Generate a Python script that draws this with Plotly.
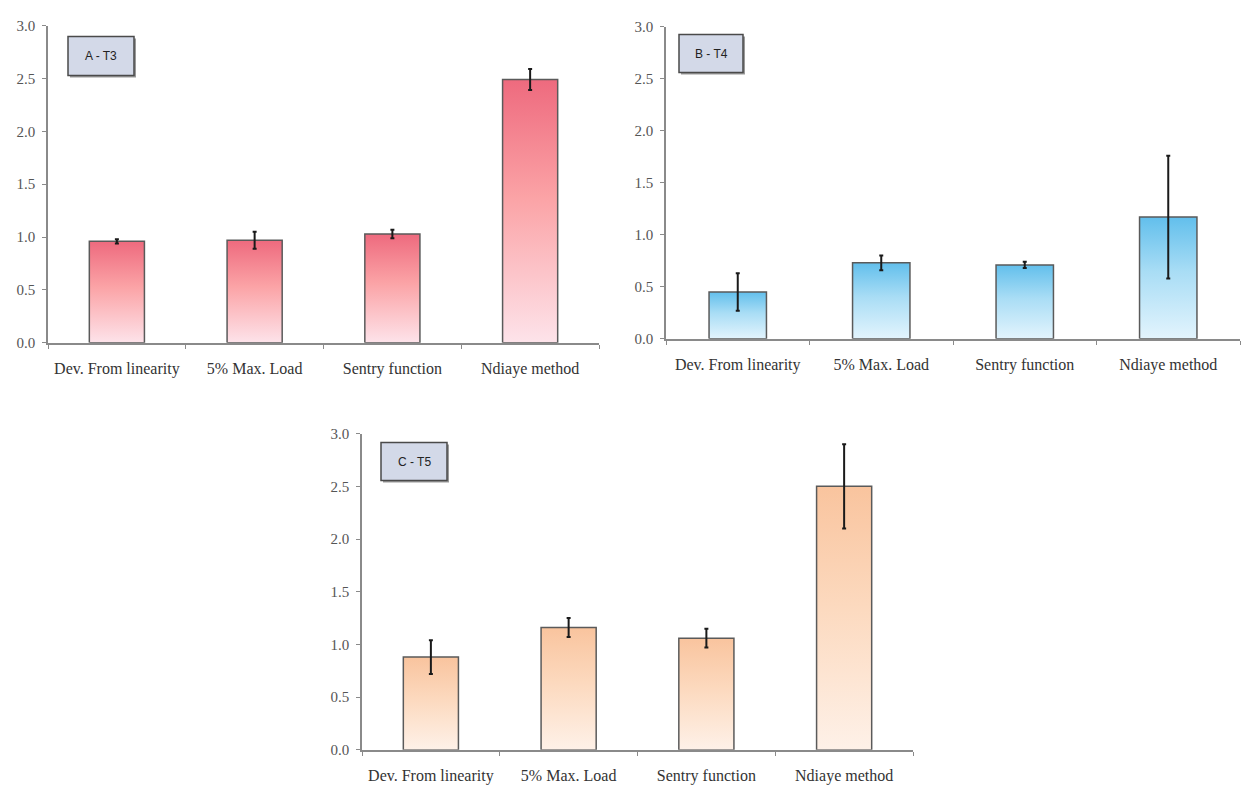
import plotly.graph_objects as go

categories = ["Dev. From linearity", "5% Max. Load", "Sentry function", "Ndiaye method"]
panel_labels = ["A - T3", "B - T4", "C - T5"]

t3_values = [0.96, 0.97, 1.03, 2.49]
t3_errors = [0.02, 0.08, 0.04, 0.10]
t4_values = [0.45, 0.73, 0.71, 1.17]
t4_errors = [0.18, 0.07, 0.03, 0.59]
t5_values = [0.88, 1.16, 1.06, 2.50]
t5_errors = [0.16, 0.09, 0.09, 0.40]
y_ticks = [0.0, 0.5, 1.0, 1.5, 2.0, 2.5, 3.0]

W, H = 1249, 788
# observed render offset correction (target px -> spec px)
def px_x(x):
    return (x - 6) / W
def px_y(y):
    return 1 - (y - 14.4) / 0.982 / H

panels = [
    dict(values=t3_values, errors=t3_errors, top="#EE6A7E", mid="#FBA3A6", bottom="#FDE3EA",
         xdom=[px_x(46), px_x(597)], ydom=[px_y(342), px_y(24)], label=panel_labels[0]),
    dict(values=t4_values, errors=t4_errors, top="#62BFEC", mid="#A9DDF5", bottom="#E3F4FD",
         xdom=[px_x(664), px_x(1238)], ydom=[px_y(338), px_y(25)], label=panel_labels[1]),
    dict(values=t5_values, errors=t5_errors, top="#F9C49E", mid="#FCD9BE", bottom="#FEF1E8",
         xdom=[px_x(360), px_x(911)], ydom=[px_y(750), px_y(433)], label=panel_labels[2]),
]

BAR_W = 0.4
fig = go.Figure()
layout_axes = {}
annotations = []
shapes = []

for p_i, p in enumerate(panels):
    n = p_i + 1
    xa = "x" if n == 1 else f"x{n}"
    ya = "y" if n == 1 else f"y{n}"
    xs = list(range(len(categories)))
    # gradient-filled bars with outline
    for i, v in enumerate(p["values"]):
        x0, x1 = i - BAR_W / 2, i + BAR_W / 2
        fig.add_trace(go.Scatter(
            x=[x0, x1, x1, x0, x0], y=[0, 0, v, v, 0],
            mode="lines", fill="toself",
            line=dict(color="#5a5a5a", width=1.5),
            fillgradient=dict(type="vertical",
                              colorscale=[[0, p["bottom"]], [0.55, p["mid"]], [1, p["top"]]]),
            hoverinfo="skip", showlegend=False, xaxis=xa, yaxis=ya))
    # error bars on top
    fig.add_trace(go.Scatter(
        x=xs, y=p["values"], mode="markers",
        marker=dict(size=1, color="rgba(0,0,0,0)"),
        error_y=dict(type="data", array=p["errors"], visible=True,
                     color="#1a1a1a", thickness=2, width=2),
        showlegend=False, xaxis=xa, yaxis=ya))

    xkey = "xaxis" if n == 1 else f"xaxis{n}"
    ykey = "yaxis" if n == 1 else f"yaxis{n}"
    layout_axes[xkey] = dict(
        domain=p["xdom"], anchor=ya, range=[-0.5, 3.5],
        tickmode="array", tickvals=xs, ticktext=categories,
        ticks="", showgrid=False, zeroline=False,
        showline=True, linecolor="#8a8a8a", linewidth=1.5,
        ticklabelstandoff=10,
        tickfont=dict(family="Liberation Serif, Times New Roman, serif", size=16, color="#333333"),
        minor=dict(tickmode="array", tickvals=[-0.5, 0.5, 1.5, 2.5, 3.5],
                   ticks="outside", ticklen=4, tickcolor="#8a8a8a", showgrid=False),
        fixedrange=True,
    )
    layout_axes[ykey] = dict(
        domain=p["ydom"], anchor=xa, range=[0, 3],
        tickmode="array", tickvals=y_ticks, ticktext=[f"{t:.1f}" for t in y_ticks],
        ticks="outside", ticklen=4, tickcolor="#8a8a8a",
        ticklabelstandoff=4,
        showgrid=False, zeroline=False,
        showline=True, linecolor="#8a8a8a", linewidth=1.5,
        tickfont=dict(family="Liberation Serif, Times New Roman, serif", size=15, color="#555555"),
        fixedrange=True,
    )

# panel label boxes (target px positions)
boxes = [(66, 35, 132, 74), (677, 33, 741, 71), (379, 442, 445, 480)]
for (x0, y0, x1, y1), lab in zip(boxes, panel_labels):
    shapes.append(dict(type="rect", xref="paper", yref="paper",
                       x0=px_x(x0 + 2), x1=px_x(x1 + 2), y0=px_y(y1 + 2), y1=px_y(y0 + 2),
                       fillcolor="#9a9a9a", line=dict(width=0), layer="above"))
    shapes.append(dict(type="rect", xref="paper", yref="paper",
                       x0=px_x(x0), x1=px_x(x1), y0=px_y(y1), y1=px_y(y0),
                       fillcolor="#D3D9E8", line=dict(color="#4a4a4a", width=1.5), layer="above"))
    annotations.append(dict(text=lab, xref="paper", yref="paper",
                            x=px_x((x0 + x1) / 2), y=px_y((y0 + y1) / 2),
                            showarrow=False, xanchor="center", yanchor="middle",
                            font=dict(family="Liberation Sans, Arial, sans-serif", size=12, color="#222222")))

fig.update_layout(
    width=W, height=H,
    margin=dict(l=0, r=0, t=0, b=0),
    paper_bgcolor="white", plot_bgcolor="white",
    showlegend=False,
    shapes=shapes, annotations=annotations,
    **layout_axes,
)

fig.write_html("out.html")
